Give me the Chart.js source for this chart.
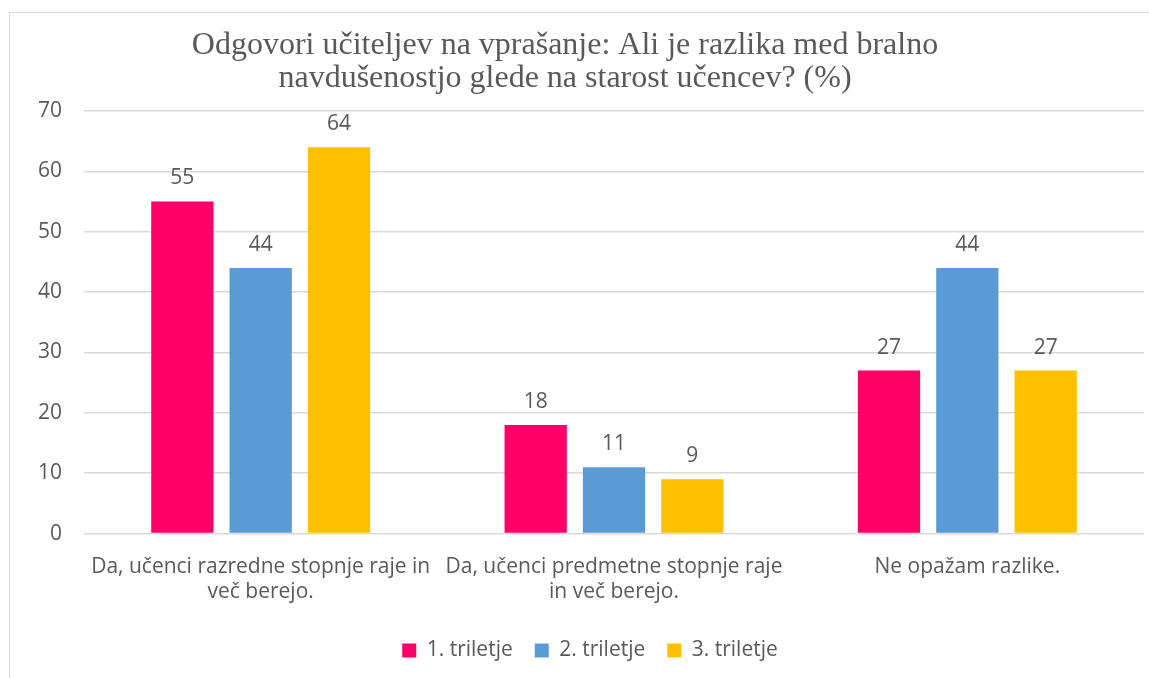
<!DOCTYPE html>
<html>
<head>
<meta charset="utf-8">
<script src="https://cdn.jsdelivr.net/npm/chart.js@4.4.0/dist/chart.umd.min.js"></script>
<style>
    html, body { margin: 0; padding: 0; background: #fff; overflow: hidden; }
    #okvir {
        position: absolute; left: 9px; top: 12px;
        width: 1162px; height: 680px;
        border-left: 1.5px solid #d9d9d9; border-top: 1.5px solid #d9d9d9;
    }
</style>
</head>
<body>
<div id="okvir"><canvas id="graf"></canvas></div>
<script>
// podatki
const kategorije = [
    ['Da, učenci razredne stopnje raje in', 'več berejo.'],
    ['Da, učenci predmetne stopnje raje', 'in več berejo.'],
    'Ne opažam razlike.'
];
const triletje1 = [55, 18, 27];
const triletje2 = [44, 11, 44];
const triletje3 = [64, 9, 27];
const imenaSerij = ['1. triletje', '2. triletje', '3. triletje'];
const barve = ['#FF0066', '#5B9BD5', '#FFC000'];
const naslov = ['Odgovori učiteljev na vprašanje: Ali je razlika med bralno', 'navdušenostjo glede na starost učencev? (%)'];

const sivo = '#595959';
const pisava = "'Open Sans', sans-serif";
const velikost = 21;

// vrednosti nad stolpci
const oznakePlugin = {
    id: 'oznake',
    afterDatasetsDraw(chart) {
        const ctx = chart.ctx;
        ctx.save();
        ctx.font = velikost + 'px ' + pisava;
        ctx.fillStyle = sivo;
        ctx.textAlign = 'center';
        ctx.textBaseline = 'middle';
        chart.data.datasets.forEach((ds, i) => {
            chart.getDatasetMeta(i).data.forEach((bar, j) => {
                ctx.fillText(ds.data[j], bar.x, bar.y - 23);
            });
        });
        ctx.restore();
    }
};

// naslov malo bolj levo, legenda malo bolj desno (kot v Excelu)
const zamikPlugin = {
    id: 'zamik',
    afterLayout(chart) {
        if (chart.titleBlock) {
            chart.titleBlock.right -= 30;
            chart.titleBlock.width -= 30;
        }
        if (chart.legend) {
            chart.legend.left += 10;
            chart.legend.right += 10;
        }
    }
};

const ctx = document.getElementById('graf').getContext('2d');
const graf = new Chart(ctx, {
    type: 'bar',
    data: {
        labels: kategorije,
        datasets: [
            { label: imenaSerij[0], data: triletje1, backgroundColor: barve[0] },
            { label: imenaSerij[1], data: triletje2, backgroundColor: barve[1] },
            { label: imenaSerij[2], data: triletje3, backgroundColor: barve[2] }
        ]
    },
    options: {
        responsive: true,
        maintainAspectRatio: false,
        animation: false,
        categoryPercentage: 0.665,
        barPercentage: 0.795,
        layout: { padding: { left: 6, right: 28, bottom: 22 } },
        plugins: {
            title: {
                display: true,
                text: naslov,
                color: sivo,
                font: { family: "'Liberation Serif', serif", size: 32, weight: 'normal', lineHeight: 1.03 },
                padding: { top: 16, bottom: 16 }
            },
            legend: {
                position: 'bottom',
                labels: {
                    color: sivo,
                    font: { family: pisava, size: velikost },
                    boxWidth: 14,
                    boxHeight: 14,
                    padding: 22
                }
            },
            tooltip: { enabled: false }
        },
        scales: {
            x: {
                grid: { display: false },
                border: { display: false },
                ticks: {
                    color: sivo,
                    font: { family: pisava, size: velikost, lineHeight: 1.2 },
                    maxRotation: 0,
                    autoSkip: false,
                    padding: 13
                }
            },
            y: {
                min: 0,
                max: 70,
                grid: { color: '#d9d9d9', lineWidth: 1.5, drawTicks: false },
                border: { display: false },
                ticks: {
                    stepSize: 10,
                    color: sivo,
                    font: { family: pisava, size: velikost },
                    padding: 22
                }
            }
        }
    },
    plugins: [oznakePlugin, zamikPlugin]
});
</script>
</body>
</html>
